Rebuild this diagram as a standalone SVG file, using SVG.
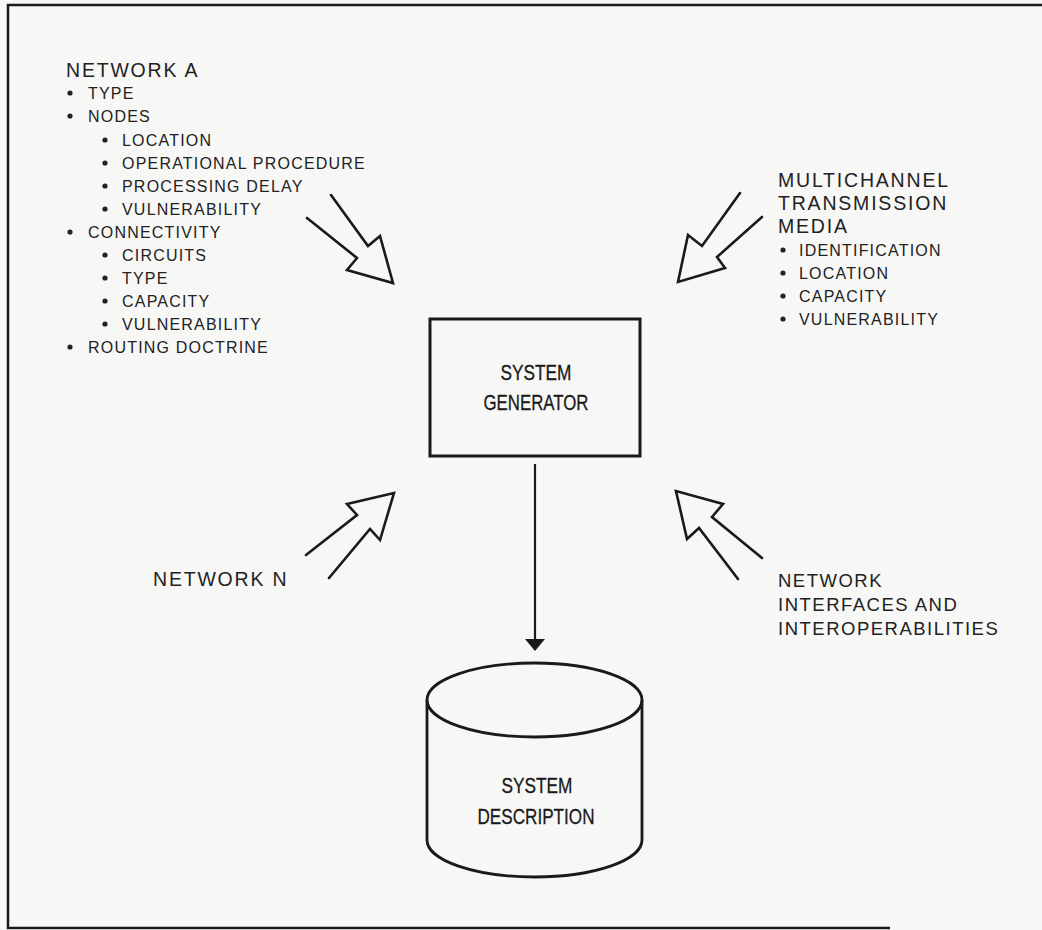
<svg xmlns="http://www.w3.org/2000/svg" width="1042" height="930" viewBox="0 0 1042 930">
<defs>
<style>
.t{font-family:"Liberation Sans",Arial,sans-serif;fill:#222;}
.h{font-size:19.5px;letter-spacing:1.8px;}
.i{font-size:16px;letter-spacing:1.2px;}
.m{font-size:18.5px;letter-spacing:1.5px;}
.c{font-family:"Liberation Sans",Arial,sans-serif;font-size:22.5px;fill:#1a1a1a;text-anchor:middle;stroke:#1a1a1a;stroke-width:0.3;}
.b{fill:#222;}
.big{fill:none;stroke:#1a1a1a;stroke-width:2.6;stroke-linejoin:miter;stroke-linecap:round;}
.frame{fill:none;stroke:#1a1a1a;stroke-width:2.5;}
</style>
<marker id="ah" viewBox="0 0 12 20" refX="11" refY="10" markerWidth="12" markerHeight="20" markerUnits="userSpaceOnUse" orient="auto">
<path d="M0,0 L12,10 L0,20 z" fill="#1a1a1a"/>
</marker>
</defs>
<rect x="0" y="0" width="1042" height="930" fill="#f7f7f6"/>
<path class="frame" d="M1042,5 L8,5 L8,928 L890,928"/>

<g id="network-a">
<text class="t h" x="66" y="77">NETWORK A</text>
<circle class="b" cx="70" cy="93" r="2.6"/><text class="t i" x="88" y="99">TYPE</text>
<circle class="b" cx="70" cy="116" r="2.6"/><text class="t i" x="88" y="122">NODES</text>
<circle class="b" cx="105" cy="140" r="2.6"/><text class="t i" x="122" y="146">LOCATION</text>
<circle class="b" cx="105" cy="163" r="2.6"/><text class="t i" x="122" y="169">OPERATIONAL PROCEDURE</text>
<circle class="b" cx="105" cy="186" r="2.6"/><text class="t i" x="122" y="192">PROCESSING DELAY</text>
<circle class="b" cx="105" cy="209" r="2.6"/><text class="t i" x="122" y="215">VULNERABILITY</text>
<circle class="b" cx="70" cy="232" r="2.6"/><text class="t i" x="88" y="238">CONNECTIVITY</text>
<circle class="b" cx="105" cy="255" r="2.6"/><text class="t i" x="122" y="261">CIRCUITS</text>
<circle class="b" cx="105" cy="278" r="2.6"/><text class="t i" x="122" y="284">TYPE</text>
<circle class="b" cx="105" cy="301" r="2.6"/><text class="t i" x="122" y="307">CAPACITY</text>
<circle class="b" cx="105" cy="324" r="2.6"/><text class="t i" x="122" y="330">VULNERABILITY</text>
<circle class="b" cx="70" cy="347" r="2.6"/><text class="t i" x="88" y="353">ROUTING DOCTRINE</text>
</g>

<g id="multichannel">
<text class="t h" x="778" y="187">MULTICHANNEL</text>
<text class="t h" x="778" y="210">TRANSMISSION</text>
<text class="t h" x="778" y="233">MEDIA</text>
<circle class="b" cx="783" cy="250" r="2.6"/><text class="t i" x="799" y="256">IDENTIFICATION</text>
<circle class="b" cx="783" cy="273" r="2.6"/><text class="t i" x="799" y="279">LOCATION</text>
<circle class="b" cx="783" cy="296" r="2.6"/><text class="t i" x="799" y="302">CAPACITY</text>
<circle class="b" cx="783" cy="319" r="2.6"/><text class="t i" x="799" y="325">VULNERABILITY</text>
</g>

<g id="network-n">
<text class="t h" x="153" y="586">NETWORK N</text>
</g>

<g id="interfaces">
<text class="t m" x="778" y="587">NETWORK</text>
<text class="t m" x="778" y="611">INTERFACES AND</text>
<text class="t m" x="778" y="635">INTEROPERABILITIES</text>
</g>

<g id="system-generator">
<rect x="430" y="319" width="210" height="137" fill="none" stroke="#1a1a1a" stroke-width="3"/>
<text class="c" x="536" y="380" textLength="71" lengthAdjust="spacingAndGlyphs">SYSTEM</text>
<text class="c" x="536" y="410" textLength="105" lengthAdjust="spacingAndGlyphs">GENERATOR</text>
</g>

<g id="system-description">
<path d="M427,700 L427,840 A107.5,37 0 0 0 642,840 L642,700" fill="none" stroke="#1a1a1a" stroke-width="2.8"/>
<ellipse cx="534.5" cy="700" rx="107.5" ry="37" fill="none" stroke="#1a1a1a" stroke-width="2.8"/>
<text class="c" x="537" y="793" textLength="71" lengthAdjust="spacingAndGlyphs">SYSTEM</text>
<text class="c" x="536" y="824" textLength="117" lengthAdjust="spacingAndGlyphs">DESCRIPTION</text>
</g>

<g id="connectors">
<line x1="535" y1="464" x2="535" y2="650" stroke="#1a1a1a" stroke-width="2.2" marker-end="url(#ah)"/>
<polyline class="big" points="331,195 368,246 380,236 393,283 347,270 357,258 307,218"/>
<polyline class="big" points="740,193 702,246 688,235 678,282 725,268 717,257 762,217"/>
<polyline class="big" points="329,578 370,529 380,540 394,493 347,504 357,515 306,555"/>
<polyline class="big" points="762,558 712,517 723,504 676,491 687,539 699,528 738,579"/>
</g>
</svg>
